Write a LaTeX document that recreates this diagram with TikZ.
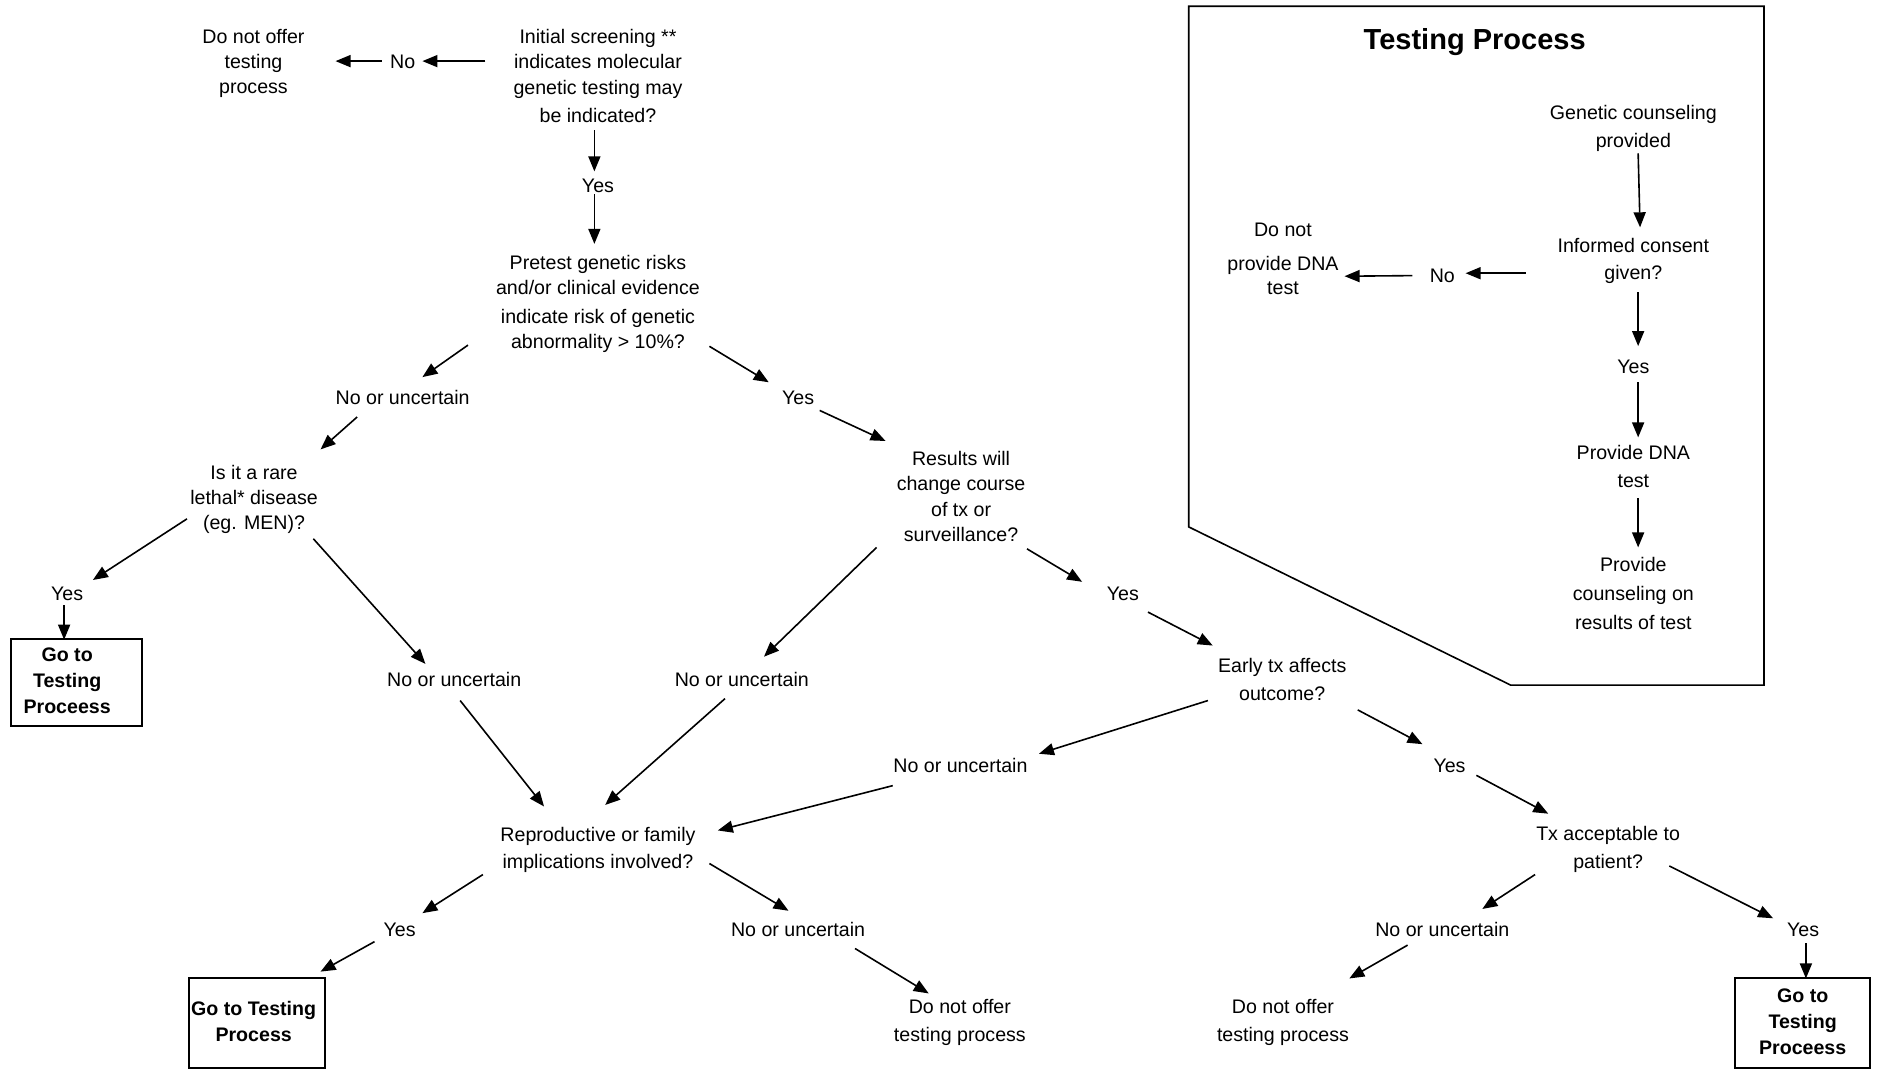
\documentclass[tikz,border=0pt]{standalone}
\usepackage{fontspec}
\setmainfont{Liberation Sans}
\usetikzlibrary{arrows.meta}
\newcommand\ms{\rule[-2.9pt]{0pt}{12.8pt}}
\newcommand\conn[4]{\draw[arr] ([shift={#2}]#1.center) -- ([shift={#4}]#3.center);}
\begin{document}
\begin{tikzpicture}[x=0.599pt,y=-0.599pt,
  txt/.style={align=center,inner sep=0pt,font=\fontsize{9.8}{12.6}\selectfont},
  gobox/.style={draw,line width=1pt,inner sep=0pt,font=\fontsize{9.8}{12.9}\selectfont\bfseries},
  arr/.style={line width=0.8pt,-{Triangle[length=7.5pt,width=6pt]}},
  panel/.style={line width=0.8pt},
  ttl/.style={inner sep=0pt,anchor=base,font=\fontsize{14.5}{17}\selectfont\bfseries}]
\useasboundingbox (0,0) rectangle (1568,892);

% Testing process panel
\draw[panel] (992,5.2) -- (1472,5.2) -- (1472,571.7) -- (1260.6,571.7) -- (992,439.7) -- cycle;
\node[ttl] (title) at (1230.6,41.7) {Testing Process};

% main flow nodes
\node[txt] (dno1) at (211.5,51.4) {\ms Do not offer\\testing\\process\ms};
\node[txt] (no1) at (336,51) {\ms No\ms};
\node[txt] (init) at (499,63.2) {\ms Initial screening **\\[0.3pt]indicates molecular\\genetic testing may\\[1.6pt]be indicated?\ms};
\node[txt] (yes1) at (499,155) {\ms Yes\ms};
\node[txt] (pre) at (499,252.1) {\ms Pretest genetic risks\\and/or clinical evidence\\[1.7pt]indicate risk of genetic\\[0.3pt]abnormality > 10\%?\ms};
\node[txt] (nu1) at (336,332) {\ms No or uncertain\ms};
\node[txt] (yes2) at (666,332) {\ms Yes\ms};
\node[txt] (rare) at (212,415) {\ms Is it a rare\\lethal* disease\\(eg. MEN)?\ms};
\node[txt] (res) at (802,414.3) {\ms Results will\\change course\\of tx or\\surveillance?\ms};
\node[txt] (yes3) at (56,495.6) {\ms Yes\ms};
\node[gobox,minimum width=65.6pt,minimum height=43.7pt] (go1) at (63.8,569.5)
  {\begin{tabular}{@{}c@{}}Go to\\Testing\\Proceess\end{tabular}\hspace*{9.3pt}};
\node[txt] (nu2) at (379,567.4) {\ms No or uncertain\ms};
\node[txt] (nu3) at (619,567.4) {\ms No or uncertain\ms};
\node[txt] (yes4) at (937,495.6) {\ms Yes\ms};
\node[txt] (early) at (1070,567.2) {\ms Early tx affects\\outcome?\ms};
\node[txt] (nu4) at (801.5,639) {\ms No or uncertain\ms};
\node[txt] (yes5) at (1209.6,639) {\ms Yes\ms};
\node[txt] (repro) at (499,707.6) {\ms Reproductive or family\\implications involved?\ms};
\node[txt] (tx) at (1342,707.2) {\ms Tx acceptable to\\patient?\ms};
\node[txt] (yes6) at (333.5,776) {\ms Yes\ms};
\node[txt] (nu5) at (666,776) {\ms No or uncertain\ms};
\node[txt] (nu6) at (1203.6,776) {\ms No or uncertain\ms};
\node[txt] (yes7) at (1504.6,776) {\ms Yes\ms};
\node[gobox,minimum width=68pt,minimum height=44.6pt] (go2) at (214.7,853.7)
  {\begin{tabular}{@{}c@{}}Go to Testing\\Process\end{tabular}\hspace*{3.6pt}};
\node[txt] (dno2) at (801,851.5) {\ms Do not offer\\testing process\ms};
\node[txt] (dno3) at (1070.6,851.5) {\ms Do not offer\\testing process\ms};
\node[gobox,minimum width=67.4pt,minimum height=44.6pt] (go3) at (1504.3,853.7)
  {\begin{tabular}{@{}c@{}}Go to\\Testing\\Proceess\end{tabular}};

% panel nodes
\node[txt] (gc) at (1363,105.6) {\ms Genetic counseling\\provided\ms};
\node[txt] (ic) at (1363,216) {\ms Informed consent\\[-0.6pt]given?\ms};
\node[txt] (no2) at (1203.6,230) {\ms No\ms};
\node[txt] (dnp) at (1070.6,215.4) {\ms Do not\\[4.4pt]provide DNA\\[-0.6pt]test\ms};
\node[txt] (yes8) at (1363,305.5) {\ms Yes\ms};
\node[txt] (pdna) at (1363,389.5) {\ms Provide DNA\\test\ms};
\node[txt] (pcr) at (1363,495.5) {\ms Provide\\[1.9pt]counseling on\\[1.9pt]results of test\ms};

% connectors
\conn{init}{(-94,-12.2)}{no1}{(16.5,0)}
\conn{no1}{(-17.5,0)}{dno1}{(68.5,-0.4)}
\conn{init}{(-3,45.4)}{yes1}{(-3,-12)}
\conn{yes1}{(-3,7)}{pre}{(-3,-48.6)}
\conn{pre}{(-108.5,35.9)}{nu1}{(16.5,-17.3)}
\conn{nu1}{(-38,16)}{rare}{(55.5,-40)}
\conn{pre}{(93,36.9)}{yes2}{(-24.5,-13)}
\conn{yes2}{(18,10.5)}{res}{(-63,-46.3)}
\conn{rare}{(-56,18)}{yes3}{(21.5,-11.6)}
\conn{yes3}{(-2.5,9.4)}{go1}{(-10.3,-35.7)}
\conn{rare}{(49.5,34.6)}{nu2}{(-24,-13.4)}
\conn{res}{(-70.5,42.5)}{nu3}{(18.5,-19.4)}
\conn{res}{(55,43.7)}{yes4}{(-34,-10.1)}
\conn{yes4}{(21,15.2)}{early}{(-58,-28.5)}
\conn{early}{(-62,17.4)}{nu4}{(65.5,-10)}
\conn{early}{(63,25.2)}{yes5}{(-22.6,-18)}
\conn{yes5}{(22.4,8)}{tx}{(-50,-28.2)}
\conn{nu2}{(5,17.2)}{repro}{(-45,-34.6)}
\conn{nu3}{(-14,15.6)}{repro}{(6,-35.9)}
\conn{nu4}{(-56.5,16.6)}{repro}{(100,-14.6)}
\conn{repro}{(-96,22.2)}{yes6}{(19,-14)}
\conn{yes6}{(-21,9.8)}{go2}{(52.8,-42.9)}
\conn{repro}{(93,13)}{nu5}{(-8,-16)}
\conn{nu5}{(47.5,15.5)}{dno2}{(-26,-22.5)}
\conn{tx}{(-61,22.6)}{nu6}{(33.4,-17.5)}
\conn{nu6}{(-29,12.7)}{dno3}{(55.4,-35)}
\conn{tx}{(51,15.4)}{yes7}{(-25,-9.7)}
\conn{yes7}{(2.4,11.2)}{go3}{(2.7,-37.2)}
\conn{gc}{(4,22.3)}{ic}{(5.6,-26.3)}
\conn{ic}{(-90,12)}{no2}{(19.4,-2)}
\conn{no2}{(-25,0)}{dnp}{(51.4,15.1)}
\conn{ic}{(4,27.7)}{yes8}{(4,-16.7)}
\conn{yes8}{(4,13.5)}{pdna}{(4,-24.5)}
\conn{pdna}{(4,26.3)}{pcr}{(4,-38.7)}
\end{tikzpicture}
\end{document}
